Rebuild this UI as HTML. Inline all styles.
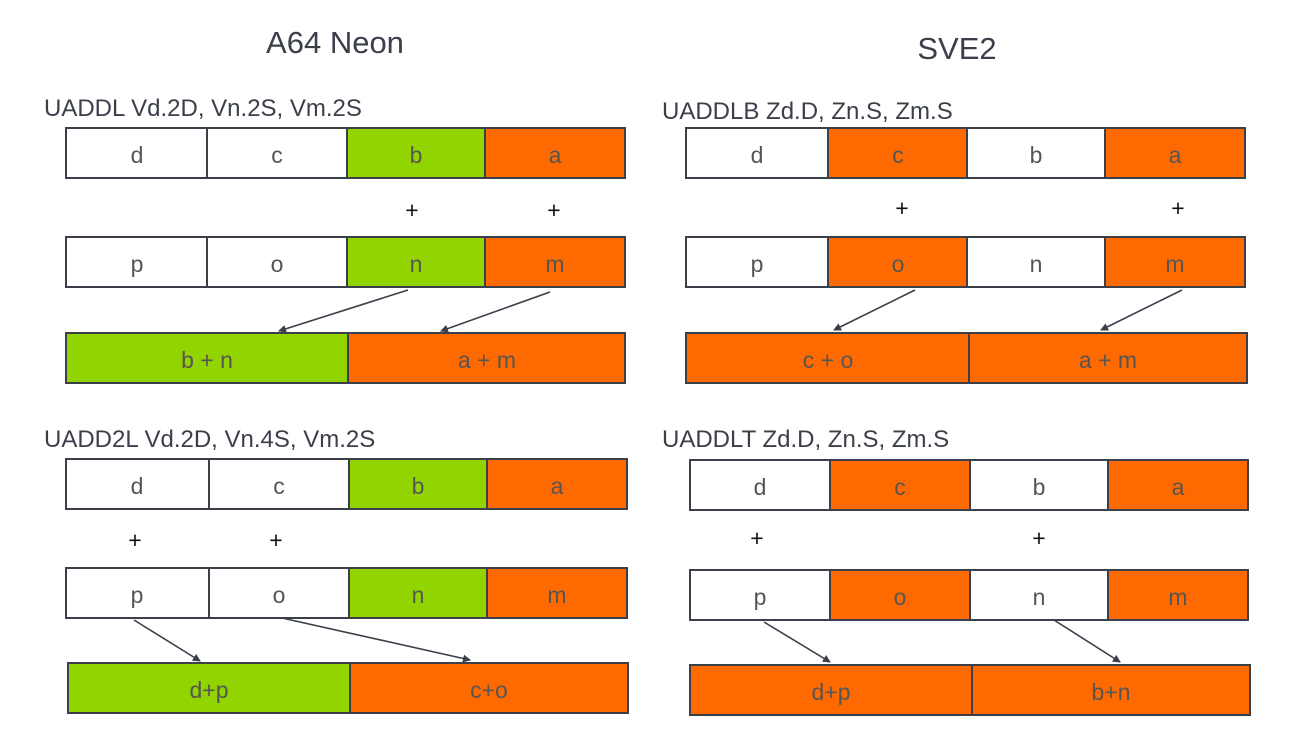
<!DOCTYPE html>
<html><head><meta charset="utf-8"><style>
html,body{margin:0;padding:0;background:#fff;}
svg text{font-family:"Liberation Sans",sans-serif;}
</style></head><body>
<svg width="1306" height="748" viewBox="0 0 1306 748" xmlns="http://www.w3.org/2000/svg">
<defs><marker id="ar" markerWidth="8" markerHeight="8" refX="7" refY="4" orient="auto" markerUnits="userSpaceOnUse"><path d="M0,0 L8,4 L0,8 z" fill="#3a3f4a"/></marker></defs>
<g fill="#3a3f4a">
<text x="335" y="53" font-size="31" text-anchor="middle">A64 Neon</text>
<text x="957" y="59" font-size="31" text-anchor="middle">SVE2</text>
<text x="44" y="116" font-size="24">UADDL Vd.2D, Vn.2S, Vm.2S</text>
<text x="662" y="119" font-size="24">UADDLB Zd.D, Zn.S, Zm.S</text>
<text x="44" y="447" font-size="24">UADD2L Vd.2D, Vn.4S, Vm.2S</text>
<text x="662" y="447" font-size="24">UADDLT Zd.D, Zn.S, Zm.S</text>
</g>
<g stroke="#3a3f4a" stroke-width="2">
<rect x="66" y="128" width="141" height="50" fill="#fff"/><rect x="207" y="128" width="140" height="50" fill="#fff"/><rect x="347" y="128" width="138" height="50" fill="#92d400"/><rect x="485" y="128" width="140" height="50" fill="#ff6a00"/>
<rect x="66" y="237" width="141" height="50" fill="#fff"/><rect x="207" y="237" width="140" height="50" fill="#fff"/><rect x="347" y="237" width="138" height="50" fill="#92d400"/><rect x="485" y="237" width="140" height="50" fill="#ff6a00"/>
<rect x="66" y="333" width="282" height="50" fill="#92d400"/><rect x="348" y="333" width="277" height="50" fill="#ff6a00"/>
<rect x="686" y="128" width="142" height="50" fill="#fff"/><rect x="828" y="128" width="139" height="50" fill="#ff6a00"/><rect x="967" y="128" width="138" height="50" fill="#fff"/><rect x="1105" y="128" width="140" height="50" fill="#ff6a00"/>
<rect x="686" y="237" width="142" height="50" fill="#fff"/><rect x="828" y="237" width="139" height="50" fill="#ff6a00"/><rect x="967" y="237" width="138" height="50" fill="#fff"/><rect x="1105" y="237" width="140" height="50" fill="#ff6a00"/>
<rect x="686" y="333" width="283" height="50" fill="#ff6a00"/><rect x="969" y="333" width="278" height="50" fill="#ff6a00"/>
<rect x="66" y="459" width="143" height="50" fill="#fff"/><rect x="209" y="459" width="140" height="50" fill="#fff"/><rect x="349" y="459" width="138" height="50" fill="#92d400"/><rect x="487" y="459" width="140" height="50" fill="#ff6a00"/>
<rect x="66" y="568" width="143" height="50" fill="#fff"/><rect x="209" y="568" width="140" height="50" fill="#fff"/><rect x="349" y="568" width="138" height="50" fill="#92d400"/><rect x="487" y="568" width="140" height="50" fill="#ff6a00"/>
<rect x="68" y="663" width="282" height="50" fill="#92d400"/><rect x="350" y="663" width="278" height="50" fill="#ff6a00"/>
<rect x="690" y="460" width="140" height="50" fill="#fff"/><rect x="830" y="460" width="140" height="50" fill="#ff6a00"/><rect x="970" y="460" width="138" height="50" fill="#fff"/><rect x="1108" y="460" width="140" height="50" fill="#ff6a00"/>
<rect x="690" y="570" width="140" height="50" fill="#fff"/><rect x="830" y="570" width="140" height="50" fill="#ff6a00"/><rect x="970" y="570" width="138" height="50" fill="#fff"/><rect x="1108" y="570" width="140" height="50" fill="#ff6a00"/>
<rect x="690" y="665" width="282" height="50" fill="#ff6a00"/><rect x="972" y="665" width="278" height="50" fill="#ff6a00"/>
</g>
<g stroke="#3a3f4a" stroke-width="1.6" marker-end="url(#ar)">
<line x1="408" y1="290" x2="279" y2="331"/><line x1="550" y1="292" x2="441" y2="331"/>
<line x1="915" y1="290" x2="834" y2="330"/><line x1="1182" y1="290" x2="1101" y2="330"/>
<line x1="134" y1="620" x2="200" y2="661"/><line x1="282" y1="618" x2="470" y2="660"/>
<line x1="764" y1="622" x2="830" y2="662"/><line x1="1054" y1="620" x2="1120" y2="662"/>
</g>
<g fill="#555" font-size="23" text-anchor="middle">
<text x="137" y="163">d</text><text x="277" y="163">c</text><text x="416" y="163">b</text><text x="555" y="163">a</text>
<text x="137" y="272">p</text><text x="277" y="272">o</text><text x="416" y="272">n</text><text x="555" y="272">m</text>
<text x="207" y="368">b + n</text><text x="487" y="368">a + m</text>
<text x="757" y="163">d</text><text x="898" y="163">c</text><text x="1036" y="163">b</text><text x="1175" y="163">a</text>
<text x="757" y="272">p</text><text x="898" y="272">o</text><text x="1036" y="272">n</text><text x="1175" y="272">m</text>
<text x="828" y="368">c + o</text><text x="1108" y="368">a + m</text>
<text x="137" y="494">d</text><text x="279" y="494">c</text><text x="418" y="494">b</text><text x="557" y="494">a</text>
<text x="137" y="603">p</text><text x="279" y="603">o</text><text x="418" y="603">n</text><text x="557" y="603">m</text>
<text x="209" y="698">d+p</text><text x="489" y="698">c+o</text>
<text x="760" y="495">d</text><text x="900" y="495">c</text><text x="1039" y="495">b</text><text x="1178" y="495">a</text>
<text x="760" y="605">p</text><text x="900" y="605">o</text><text x="1039" y="605">n</text><text x="1178" y="605">m</text>
<text x="831" y="700">d+p</text><text x="1111" y="700">b+n</text>
</g>
<g fill="#111" font-size="23" text-anchor="middle">
<text x="412" y="218">+</text><text x="554" y="218">+</text>
<text x="902" y="216">+</text><text x="1178" y="216">+</text>
<text x="135" y="548">+</text><text x="276" y="548">+</text>
<text x="757" y="546">+</text><text x="1039" y="546">+</text>
</g>
</svg>
</body></html>
